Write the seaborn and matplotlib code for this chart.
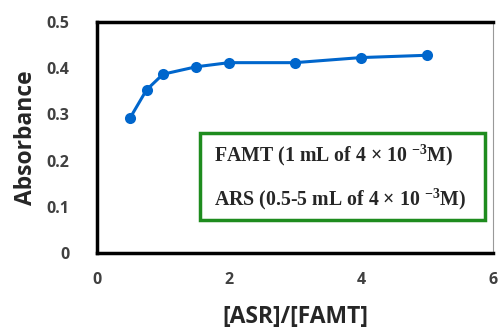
import matplotlib
matplotlib.use("Agg")
import matplotlib.pyplot as plt
import seaborn as sns
import pandas as pd

ratio = [0.5, 0.75, 1.0, 1.5, 2.0, 3.0, 4.0, 5.0]
absorbance = [0.292, 0.353, 0.387, 0.403, 0.412, 0.412, 0.423, 0.428]
x_ticks = [0, 2, 4, 6]
y_ticks = [0, 0.1, 0.2, 0.3, 0.4, 0.5]
y_labels = ["0", "0.1", "0.2", "0.3", "0.4", "0.5"]
legend_lines = ["FAMT (1 mL of 4 × 10 $^{-3}$M)", "ARS (0.5-5 mL of 4 × 10 $^{-3}$M)"]

sns.set_style("white")
plt.rcParams['font.family'] = ['Open Sans', 'DejaVu Sans']
plt.rcParams['mathtext.fontset'] = 'custom'
plt.rcParams['mathtext.rm'] = 'Liberation Serif:bold'
plt.rcParams['mathtext.it'] = 'Liberation Serif:bold'
plt.rcParams['mathtext.bf'] = 'Liberation Serif:bold'

df = pd.DataFrame({"ratio": ratio, "abs": absorbance})

fig = plt.figure(figsize=(4.99, 3.31), dpi=100)
ax = fig.add_axes([97/499, 1-253/331, (493-97)/499, (253-22)/331])
sns.lineplot(data=df, x="ratio", y="abs", ax=ax, color="#0066CC", marker="o",
             markersize=8, markeredgewidth=0, linewidth=2.2)
ax.set_xlim(0, 6)
ax.set_ylim(0, 0.5)
ax.set_xticks(x_ticks)
ax.set_yticks(y_ticks)
ax.set_yticklabels(y_labels)
ax.tick_params(axis='both', length=0, labelsize=11.5, labelcolor="#404040")
ax.tick_params(axis='y', pad=20)
ax.tick_params(axis='x', pad=14)
for lab in ax.get_xticklabels() + ax.get_yticklabels():
    lab.set_fontweight("bold")
ax.set_xlabel("[ASR]/[FAMT]", fontsize=16.5, fontweight="bold", color="#262626", labelpad=12)
ax.set_ylabel("Absorbance", fontsize=16.5, fontweight="bold", color="#262626", labelpad=6)
for s in ["left", "top", "bottom"]:
    ax.spines[s].set_color("black")
    ax.spines[s].set_linewidth(2.5)
ax.spines["right"].set_color("#999999")
ax.spines["right"].set_linewidth(0.8)

from matplotlib.patches import Rectangle
box = Rectangle((200/499, 1-220/331), (485-200)/499, (220-133)/331, transform=fig.transFigure,
                fill=True, facecolor="white", edgecolor="#1E8C1E", linewidth=2.5, zorder=5)
fig.patches.append(box)
fig.text(214/499, 1-155/331, legend_lines[0], fontsize=14.3, fontweight="bold",
         family="Liberation Serif", va="center", ha="left", zorder=6)
fig.text(214/499, 1-199/331, legend_lines[1], fontsize=14.3, fontweight="bold",
         family="Liberation Serif", va="center", ha="left", zorder=6)

fig.savefig("out.png", dpi=100)
